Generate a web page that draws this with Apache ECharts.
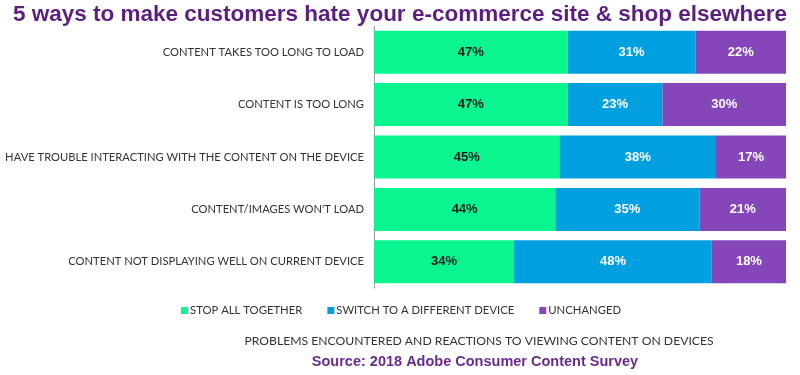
<!DOCTYPE html>
<html>
<head>
<meta charset="utf-8">
<script src="https://cdn.jsdelivr.net/npm/echarts@6/dist/echarts.min.js"></script>
<style>
html, body { margin: 0; padding: 0; background: #fff; }
#chart { width: 800px; height: 375px; }
</style>
</head>
<body>
<div id="chart"></div>
<script>
// problems (top to bottom)
const problems = [
    'CONTENT TAKES TOO LONG TO LOAD',
    'CONTENT IS TOO LONG',
    'HAVE TROUBLE INTERACTING WITH THE CONTENT ON THE DEVICE',
    "CONTENT/IMAGES WON'T LOAD",
    'CONTENT NOT DISPLAYING WELL ON CURRENT DEVICE'
]
const stopAll = [47, 47, 45, 44, 34]
const switchDevice = [31, 23, 38, 35, 48]
const unchanged = [22, 30, 17, 21, 18]
const seriesNames = ['STOP ALL TOGETHER', 'SWITCH TO A DIFFERENT DEVICE', 'UNCHANGED']

const chart = echarts.init(document.getElementById('chart'))

function barSeries (name, data, color, labelColor) {
    return {
        name: name,
        type: 'bar',
        stack: 'total',
        barCategoryGap: '18%',
        itemStyle: { color: color },
        label: {
            show: true,
            position: 'inside',
            formatter: '{c}%',
            color: labelColor,
            fontFamily: 'Liberation Sans, Arial',
            fontWeight: 'bold',
            fontSize: 13
        },
        data: data
    }
}

const option = {
    animation: false,
    title: [
        {
            text: '5 ways to make customers hate your e-commerce site & shop elsewhere',
            left: 'center',
            top: -2,
            textStyle: {
                color: '#5c1f80',
                fontFamily: 'Liberation Sans, Arial',
                fontWeight: 'bold',
                fontSize: 22.5
            }
        },
        {
            text: 'PROBLEMS ENCOUNTERED AND REACTIONS TO VIEWING CONTENT ON DEVICES',
            left: 474,
            textAlign: 'center',
            top: 330,
            textStyle: { color: '#333', fontFamily: 'Lato', fontWeight: 'normal', fontSize: 12.2 }
        },
        {
            text: 'Source: 2018 Adobe Consumer Content Survey',
            left: 470,
            textAlign: 'center',
            top: 349,
            textStyle: { color: '#6a2a8c', fontFamily: 'Liberation Sans, Arial', fontWeight: 'bold', fontSize: 14.5 }
        }
    ],
    color: ['#0af590', '#00a0e0', '#8446b8'],
    legend: {
        data: seriesNames,
        left: 176,
        top: 300,
        itemWidth: 7,
        itemHeight: 7,
        itemGap: 25,
        icon: 'rect',
        textStyle: { color: '#333', fontFamily: 'Lato', fontSize: 11.3, padding: [0, 0, 0, -3] }
    },
    grid: { left: 374, right: 14, top: 26, bottom: 87, outerBoundsMode: 'none' },
    xAxis: {
        type: 'value',
        min: 0,
        max: 100,
        show: false
    },
    yAxis: {
        type: 'category',
        inverse: true,
        data: problems,
        axisLine: { show: true, lineStyle: { color: '#999' } },
        axisTick: { show: false },
        axisLabel: { color: '#333', fontFamily: 'Lato', fontSize: 11.2, margin: 10 }
    },
    series: [
        barSeries(seriesNames[0], stopAll, '#0af590', '#1a1a1a'),
        barSeries(seriesNames[1], switchDevice, '#00a0e0', '#fff'),
        barSeries(seriesNames[2], unchanged, '#8446b8', '#fff')
    ]
}

chart.setOption(option)
</script>
</body>
</html>
